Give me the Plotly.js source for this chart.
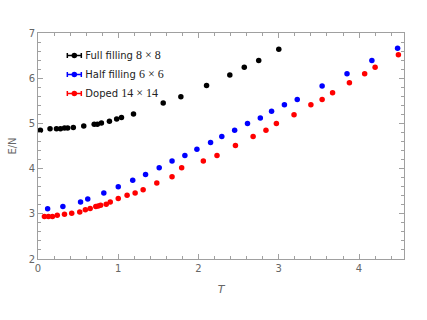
<!DOCTYPE html>
<html>
<head>
<meta charset="utf-8">
<script src="https://cdn.plot.ly/plotly-3.0.1.min.js"></script>
<style>
  html, body { margin: 0; padding: 0; background: #fff; }
  #chart { width: 427px; height: 320px; }
</style>
</head>
<body>
<div id="chart"></div>
<script>
// Full filling 8x8
let fullT = [0.03, 0.15, 0.23, 0.28, 0.33, 0.37, 0.44, 0.57, 0.70, 0.74, 0.79, 0.89, 0.98, 1.04, 1.19, 1.56, 1.78, 2.10, 2.39, 2.57, 2.75, 3.00];
let fullE = [4.85, 4.88, 4.88, 4.88, 4.90, 4.90, 4.91, 4.94, 4.98, 4.98, 5.01, 5.05, 5.10, 5.13, 5.21, 5.45, 5.59, 5.84, 6.07, 6.24, 6.39, 6.64];

// Half filling 6x6
let halfT = [0.12, 0.31, 0.53, 0.62, 0.82, 1.00, 1.18, 1.34, 1.51, 1.67, 1.83, 1.98, 2.15, 2.29, 2.45, 2.61, 2.77, 2.91, 3.07, 3.23, 3.54, 3.85, 4.16, 4.48];
let halfE = [3.11, 3.16, 3.26, 3.33, 3.46, 3.60, 3.74, 3.87, 4.02, 4.17, 4.29, 4.43, 4.58, 4.71, 4.85, 5.00, 5.12, 5.27, 5.41, 5.53, 5.83, 6.10, 6.39, 6.66];

// Doped 14x14
let dopedT = [0.08, 0.13, 0.18, 0.24, 0.33, 0.42, 0.52, 0.59, 0.65, 0.72, 0.75, 0.78, 0.85, 0.90, 1.00, 1.11, 1.21, 1.31, 1.48, 1.67, 1.79, 2.06, 2.23, 2.46, 2.68, 2.84, 2.97, 3.19, 3.40, 3.54, 3.67, 3.88, 4.07, 4.20, 4.49];
let dopedE = [2.94, 2.94, 2.94, 2.97, 2.99, 3.01, 3.04, 3.09, 3.12, 3.16, 3.17, 3.19, 3.21, 3.26, 3.34, 3.41, 3.46, 3.53, 3.68, 3.82, 4.02, 4.17, 4.29, 4.51, 4.71, 4.85, 5.00, 5.19, 5.41, 5.53, 5.68, 5.90, 6.10, 6.24, 6.52];

let names = [
    'Full filling <span style="font-family:Liberation Serif, serif;font-size:12px">8 × 8</span>',
    'Half filling <span style="font-family:Liberation Serif, serif;font-size:12px">6 × 6</span>',
    'Doped <span style="font-family:Liberation Serif, serif;font-size:12px">14 × 14</span>'
];
let colors = ['#000000', '#0000ff', '#ff0000'];
let xs = [fullT, halfT, dopedT];
let ys = [fullE, halfE, dopedE];

let traces = [];
for (let i = 0; i < 3; i++) {
    traces.push({
        x: xs[i], y: ys[i],
        mode: 'markers',
        type: 'scatter',
        showlegend: false,
        marker: {color: colors[i], size: 5.5}
    });
}
// legend entries only (no drawable data)
for (let i = 0; i < 3; i++) {
    traces.push({
        x: [null], y: [null],
        mode: 'lines+markers',
        type: 'scatter',
        name: names[i],
        line: {color: colors[i], width: 1.5},
        marker: {color: colors[i], size: 5.5}
    });
}

let axisStyle = {
    showgrid: false,
    zeroline: false,
    showline: true,
    linecolor: '#a0a0a0',
    linewidth: 1,
    mirror: 'allticks',
    ticks: 'inside',
    ticklen: 5,
    tickcolor: '#a0a0a0',
    tickfont: {family: 'DejaVu Sans, sans-serif', size: 10, color: '#666'}
};

let layout = {
    width: 427,
    height: 320,
    margin: {l: 38, r: 23, t: 33, b: 61},
    paper_bgcolor: '#fff',
    plot_bgcolor: '#fff',
    showlegend: true,
    legend: {
        x: 0.02, y: 0.965,
        xanchor: 'left', yanchor: 'top',
        bgcolor: 'rgba(0,0,0,0)',
        font: {family: 'DejaVu Sans, sans-serif', size: 10, color: '#222'},
        itemwidth: 30,
        tracegroupgap: 0
    },
    xaxis: Object.assign({}, axisStyle, {
        range: [0, 4.56],
        dtick: 1,
        tick0: 0,
        minor: {dtick: 0.2, ticks: 'inside', ticklen: 3, tickcolor: '#a0a0a0'},
        title: {text: '<i>T</i>', font: {family: 'DejaVu Sans, sans-serif', size: 11, color: '#666'}, standoff: 12}
    }),
    yaxis: Object.assign({}, axisStyle, {
        range: [2, 7],
        dtick: 1,
        tick0: 0,
        minor: {dtick: 0.2, ticks: 'inside', ticklen: 3, tickcolor: '#a0a0a0'},
        title: {text: 'E/N', font: {family: 'DejaVu Sans, sans-serif', size: 10, color: '#666'}, standoff: 10}
    })
};

Plotly.newPlot('chart', traces, layout, {staticPlot: true}).then(function (gd) {
    // shorter legend symbols with end caps, like error-bar keys
    gd.querySelectorAll('.legendlines path').forEach(function (p) {
        p.setAttribute('d', 'M22,0h14M22,-2.5v5M36,-2.5v5');
    });
    gd.querySelectorAll('.legendpoints path').forEach(function (p) {
        p.setAttribute('transform', 'translate(29,0)');
    });
});
</script>
</body>
</html>
